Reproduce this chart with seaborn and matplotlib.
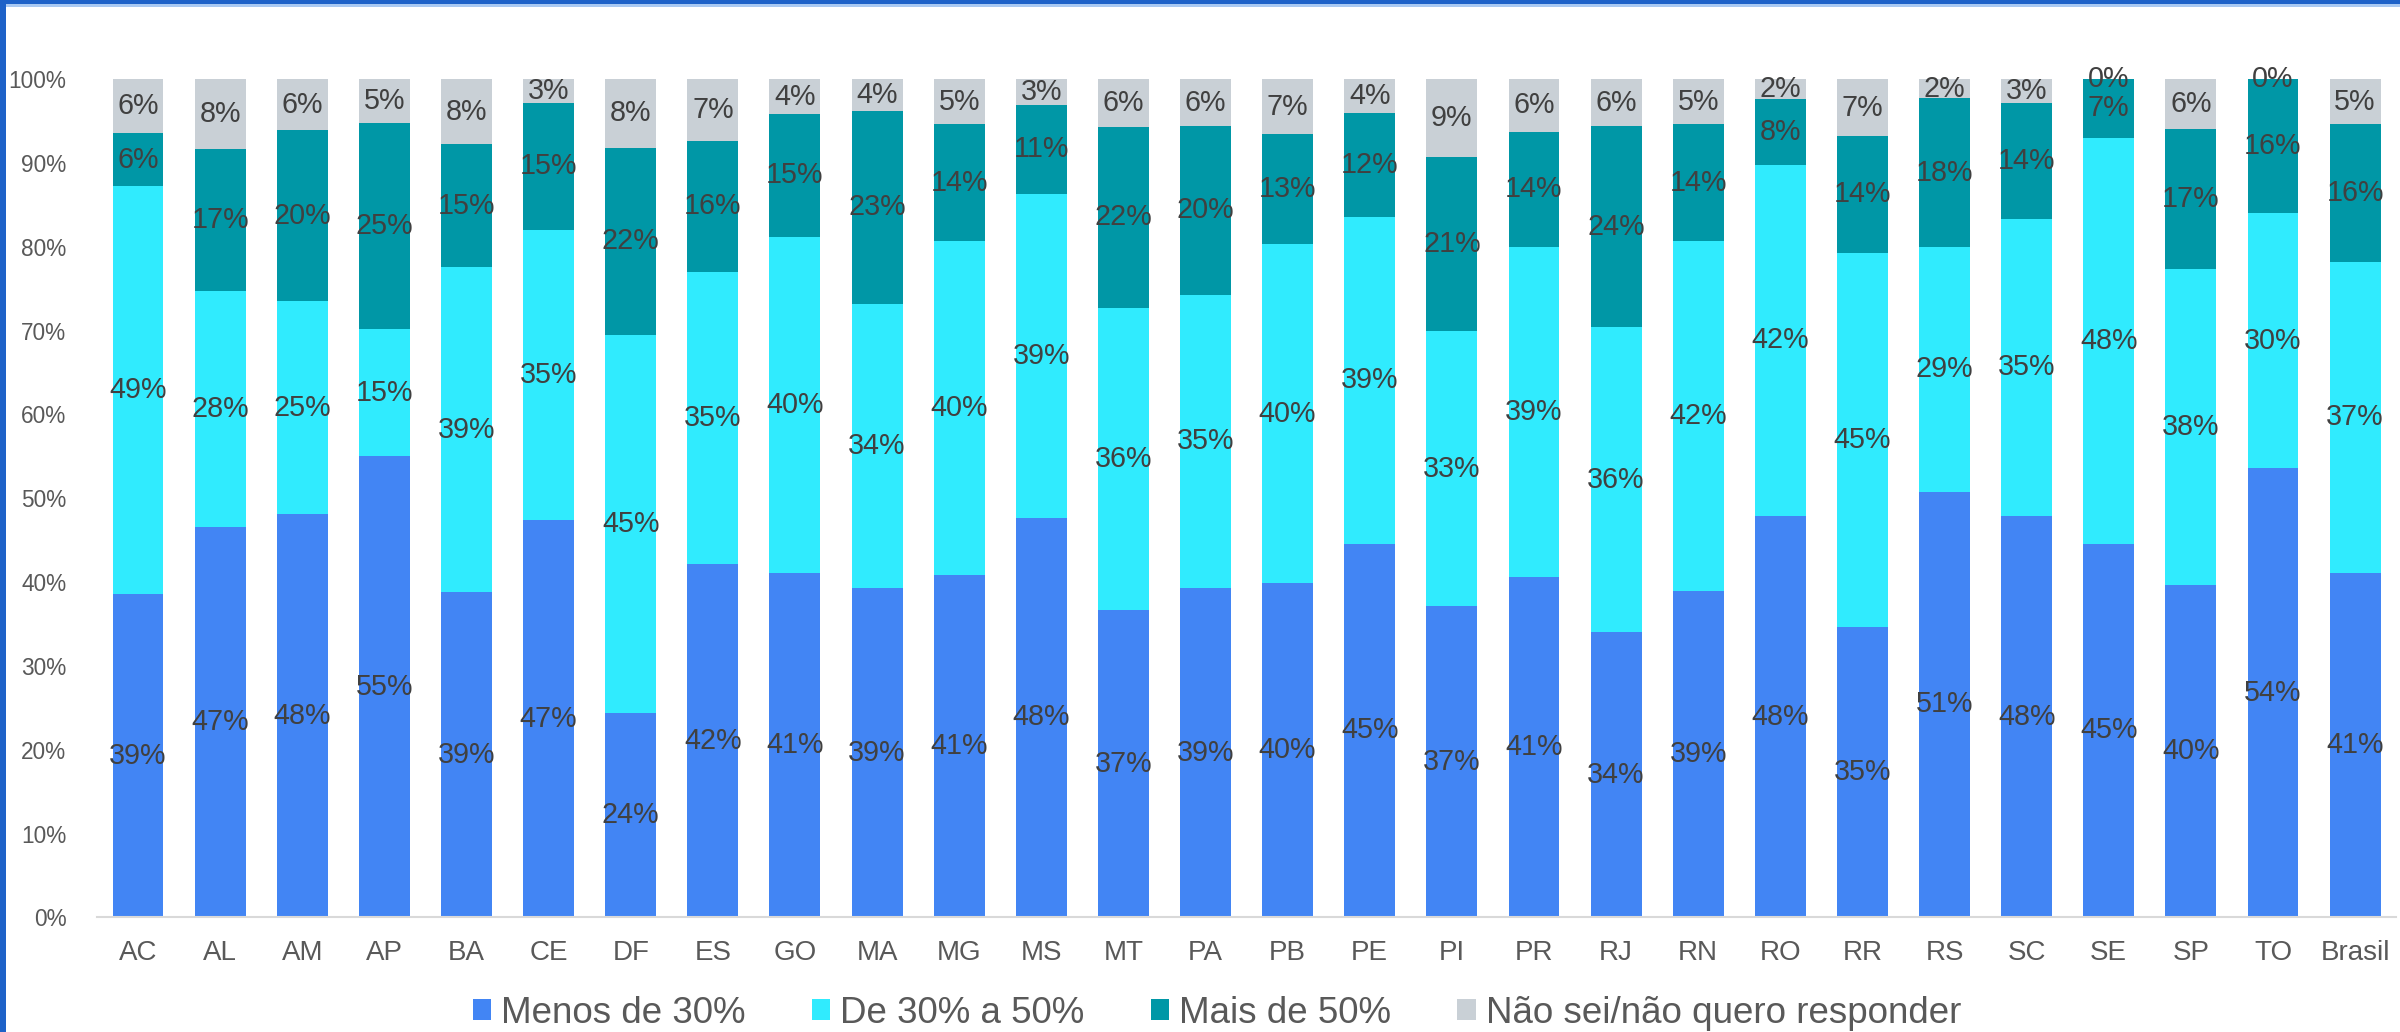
import matplotlib
matplotlib.use('Agg')
import matplotlib.pyplot as plt
from matplotlib.patches import Patch, Rectangle
from matplotlib.ticker import PercentFormatter
import seaborn as sns
import numpy as np
import pandas as pd

STATES = ['AC', 'AL', 'AM', 'AP', 'BA', 'CE', 'DF', 'ES', 'GO', 'MA', 'MG', 'MS', 'MT', 'PA',
          'PB', 'PE', 'PI', 'PR', 'RJ', 'RN', 'RO', 'RR', 'RS', 'SC', 'SE', 'SP', 'TO', 'Brasil']

# shares in %
menos_30 = [38.6, 46.6, 48.1, 55.0, 38.8, 47.4, 24.4, 42.2, 41.1, 39.3, 40.8, 47.7, 36.7, 39.3,
            39.9, 44.6, 37.1, 40.6, 34.0, 38.9, 47.9, 34.7, 50.8, 47.9, 44.6, 39.7, 53.6, 41.1]
de_30_50 = [48.6, 28.1, 25.4, 15.2, 38.8, 34.6, 45.1, 34.8, 40.1, 33.9, 39.9, 38.6, 36.0, 35.0,
            40.4, 38.9, 32.8, 39.4, 36.4, 41.8, 41.9, 44.6, 29.2, 35.4, 48.4, 37.7, 30.4, 37.1]
mais_50 = [6.4, 16.9, 20.4, 24.6, 14.6, 15.2, 22.3, 15.6, 14.6, 23.0, 13.9, 10.6, 21.6, 20.1,
           13.1, 12.4, 20.8, 13.7, 24.0, 13.9, 7.8, 13.9, 17.7, 13.8, 7.0, 16.7, 16.0, 16.4]
nao_sei = [6.4, 8.4, 6.1, 5.2, 7.8, 2.8, 8.2, 7.4, 4.2, 3.8, 5.4, 3.1, 5.7, 5.6,
           6.6, 4.1, 9.3, 6.3, 5.6, 5.4, 2.4, 6.8, 2.3, 2.9, 0.0, 5.9, 0.0, 5.4]

SERIES = ['Menos de 30%', 'De 30% a 50%', 'Mais de 50%', 'Não sei/não quero responder']
COLORS = ['#4285F4', '#30EBFE', '#0097A6', '#C9D0D6']

sns.set_theme(style='white')
plt.rcParams['font.family'] = ['Liberation Sans', 'DejaVu Sans']

df = pd.DataFrame({'state': STATES, SERIES[0]: menos_30, SERIES[1]: de_30_50,
                   SERIES[2]: mais_50, SERIES[3]: nao_sei})
vals = df[SERIES].to_numpy() / 100.0
tops = np.cumsum(vals, axis=1)
bottoms = tops - vals

fig = plt.figure(figsize=(24, 10.32), dpi=100)
ax = fig.add_axes([0.0404, 0.111, 0.958, 0.8124])

# stacked bars: draw cumulative heights from tallest to shortest
for k in range(len(SERIES) - 1, -1, -1):
    sns.barplot(x=df['state'], y=tops[:, k], color=COLORS[k], saturation=1,
                width=0.62, ax=ax, linewidth=0, zorder=2 + (3 - k))

for i in range(len(STATES)):
    for k in range(len(SERIES)):
        ax.text(i, bottoms[i, k] + vals[i, k] / 2, f'{round(vals[i, k] * 100):.0f}%',
                ha='center', va='center', fontsize=20.7, color='#404040', zorder=10)

ax.set_xlim(-0.5, len(STATES) - 0.5)
ax.set_ylim(0, 1)
ax.set_yticks(np.arange(0, 1.01, 0.1))
ax.yaxis.set_major_formatter(PercentFormatter(1.0, decimals=0))
ax.set_xlabel('')
ax.set_ylabel('')
ax.tick_params(axis='y', length=0, pad=22, labelsize=16.3, labelcolor='#595959')
ax.tick_params(axis='x', length=0, pad=16, labelsize=20, labelcolor='#595959')
for side in ['top', 'right', 'left']:
    ax.spines[side].set_visible(False)
ax.spines['bottom'].set_color('#D9D9D9')
ax.spines['bottom'].set_linewidth(1.5)
ax.spines['bottom'].set_zorder(8)

handles = [Patch(facecolor=c, edgecolor='none', label=s) for c, s in zip(COLORS, SERIES)]
fig.legend(handles=handles, loc='center', bbox_to_anchor=(0.507, 0.0184), ncol=4,
           frameon=False, fontsize=26.5, labelcolor='#595959', handlelength=0.5,
           handleheight=0.5, handletextpad=0.27, columnspacing=1.8, borderpad=0)

# screenshot window frame
fig.patches.append(Rectangle((0, 0), 6 / 2400, 1, transform=fig.transFigure,
                             facecolor='#1E62C8', edgecolor='none'))
fig.patches.append(Rectangle((0, 1 - 4 / 1032), 1, 4 / 1032, transform=fig.transFigure,
                             facecolor='#1E62C8', edgecolor='none'))
fig.patches.append(Rectangle((6 / 2400, 1 - 7 / 1032), 1, 3 / 1032, transform=fig.transFigure,
                             facecolor='#A9C9F2', edgecolor='none'))

plt.savefig('out.png', dpi=100)
